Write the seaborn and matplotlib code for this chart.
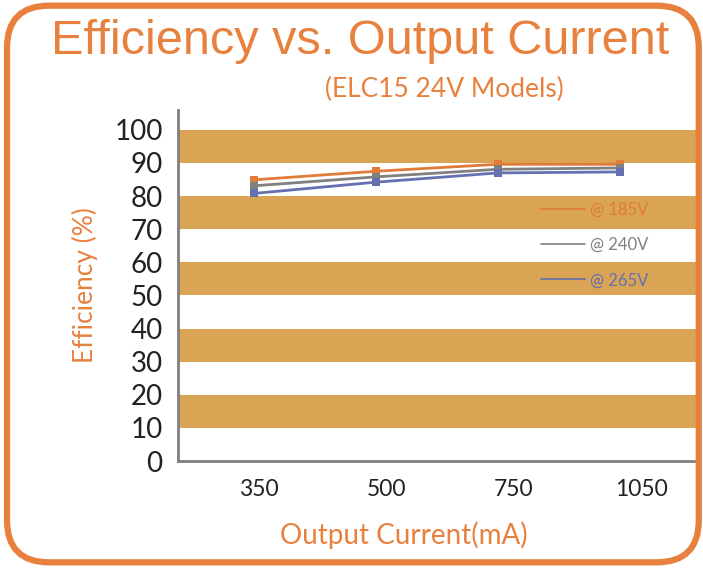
import numpy as np
import pandas as pd
import matplotlib
matplotlib.use("Agg")
import matplotlib.pyplot as plt
import seaborn as sns
from matplotlib.lines import Line2D
from matplotlib.patches import FancyBboxPatch

# =========================================================
#   DATA
# =========================================================
currents = ["350", "500", "750", "1050"]
eff_185v = [84.9, 87.5, 89.6, 89.6]
eff_240v = [83.1, 85.8, 88.1, 88.5]
eff_265v = [80.8, 84.2, 87.0, 87.3]
series_names = ["@ 185V", "@ 240V", "@ 265V"]
band_ranges = [(10, 20), (30, 40), (50, 60), (70, 80), (90, 100)]

colors = ["#E07B39", "#808080", "#6470B0"]
orange = "#E8813E"
band_color = "#D9A454"

df = pd.DataFrame({
    "pos": list(range(len(currents))) * 3,
    "eff": eff_185v + eff_240v + eff_265v,
    "series": np.repeat(series_names, len(currents)),
})

# =========================================================
#   FIGURE
# =========================================================
sns.set_style("white")
plt.rcParams["font.family"] = ["Lato", "DejaVu Sans"]

fig = plt.figure(figsize=(7.03, 5.68), dpi=100)
ax = fig.add_axes([178 / 703, 1 - 461 / 568, 520 / 703, 351 / 568])

# rounded orange frame
frame = FancyBboxPatch((0.01, 0.01), 0.984, 0.98,
                       boxstyle="round,pad=0,rounding_size=0.06",
                       transform=fig.transFigure, fill=False,
                       edgecolor=orange, linewidth=4.5, zorder=0,
                       mutation_aspect=703 / 568)
fig.patches.append(frame)

# horizontal bands
for lo, hi in band_ranges:
    ax.axhspan(lo, hi, color=band_color, lw=0, zorder=0)

sns.lineplot(data=df, x="pos", y="eff", hue="series", palette=colors,
             marker="s", markersize=6, markeredgewidth=0, linewidth=2,
             legend=False, ax=ax, zorder=3)

ax.set_xlim(-0.62, 3.64)
ax.set_ylim(0, 106)
ax.set_yticks(range(0, 101, 10))
ax.set_xticks(np.arange(-0.62, 3.7, 0.68))
ax.set_xticklabels([])
ax.tick_params(axis="both", colors="#808080", length=6, width=1.5,
               direction="out")
ax.tick_params(axis="y", labelcolor="#222222", labelsize=20, pad=5)

# category labels sit a little off the tick grid, as in the original
for i, lab in enumerate(currents):
    ax.text(i * 1.045 + 0.04, -8.5, lab, ha="center", va="center",
            fontsize=16.5, color="#222222", clip_on=False)

for s in ["top", "right"]:
    ax.spines[s].set_visible(False)
for s in ["left", "bottom"]:
    ax.spines[s].set_color("#808080")
    ax.spines[s].set_linewidth(2)

ax.set_xlabel("")
ax.set_ylabel("Efficiency (%)", color=orange, fontsize=19, labelpad=12)
fig.text(404 / 703, 1 - 535 / 568, "Output Current(mA)", color=orange,
         fontsize=20, ha="center", va="center")

fig.text(360 / 703, 1 - 42 / 568, "Efficiency vs. Output Current",
         color=orange, fontsize=35, ha="center", va="center",
         family=["Liberation Sans", "DejaVu Sans"])
fig.text(444 / 703, 1 - 89 / 568, "(ELC15 24V Models)", color=orange,
         fontsize=19, ha="center", va="center")

handles = [Line2D([], [], color=c, lw=1.2) for c in colors]
leg = ax.legend(handles, series_names, loc="center left",
                bbox_to_anchor=(0.67, 0.615), frameon=False,
                labelcolor=colors, fontsize=12, handlelength=2.6,
                handletextpad=0.3, labelspacing=1.15)

fig.savefig("out.png", dpi=100)
